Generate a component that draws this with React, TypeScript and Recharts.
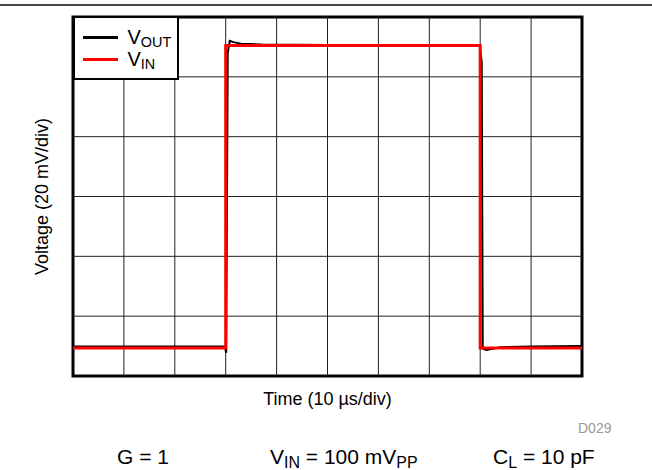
import React from "react";
import {
    LineChart,
    Line,
    XAxis,
    YAxis,
    ReferenceLine,
    ReferenceArea,
    Legend,
} from "recharts";

// time in µs, voltage in mV (scope trace, 10 µs/div, 20 mV/div)
const xTicks = [0, 10, 20, 30, 40, 50, 60, 70, 80, 90, 100];
const yTicks = [-60, -40, -20, 0, 20, 40, 60];

const vinTime = [0, 30, 30, 80, 80, 100];
const vinValues = [-50.6, -50.6, 50.5, 50.5, -50.6, -50.6];

const voutTime = [0, 29.8, 30.1, 30.4, 30.8, 31.5, 33, 37, 50, 79.9, 80.3, 80.5, 81.2, 84, 90, 100];
const voutValues = [-50.1, -50.1, -52.2, 48, 52, 51.6, 51.1, 50.8, 50.6, 50.5, 45, -50.8, -51.3, -50.4, -50.1, -50];

const seriesOrder = ["vout", "vin"];
const seriesLabels: Record<string, [string, string]> = {
    vout: ["V", "OUT"],
    vin: ["V", "IN"],
};

const vinData = vinTime.map((t, i) => ({ t, v: vinValues[i] }));
const voutData = voutTime.map((t, i) => ({ t, v: voutValues[i] }));

const FONT = "'Liberation Sans', Arial, Helvetica, sans-serif";

const Sub: React.FC<{ main: string; sub: string; size: number; ratio?: number }> = ({ main, sub, size, ratio = 0.72 }) => (
    <span>
        {main}
        <span style={{ fontSize: size * ratio, position: "relative", top: size * 0.18 }}>{sub}</span>
    </span>
);

const LegendBox = (props: any) => {
    const payload: any[] = props.payload || [];
    const items = seriesOrder
        .map((name) => payload.find((p) => p.value === name))
        .filter(Boolean);
    return (
        <div
            style={{
                boxSizing: "border-box",
                width: 106,
                height: 64,
                border: "2.5px solid #000",
                background: "#fff",
                paddingTop: 8.5,
                fontFamily: FONT,
            }}
        >
            {items.map((entry: any) => {
                const [main, sub] = seriesLabels[entry.value];
                return (
                    <div
                        key={entry.value}
                        style={{ display: "flex", alignItems: "center", height: 22, lineHeight: "20px" }}
                    >
                        <span
                            style={{
                                display: "inline-block",
                                width: 35,
                                height: 3,
                                background: entry.color,
                                marginLeft: 7.5,
                                marginRight: 10,
                            }}
                        />
                        <span style={{ fontSize: 20, color: "#000" }}>
                            <Sub main={main} sub={sub} size={20} />
                        </span>
                    </div>
                );
            })}
        </div>
    );
};

const YTitle = (props: any) => {
    const { viewBox } = props;
    const cx = viewBox.x + 42;
    const cy = viewBox.y + viewBox.height / 2;
    return (
        <text
            x={cx}
            y={cy}
            transform={`rotate(-90, ${cx}, ${cy})`}
            textAnchor="middle"
            dominantBaseline="central"
            fontSize={18}
            fontFamily={FONT}
            fill="#000"
        >
            Voltage (20 mV/div)
        </text>
    );
};

const noteStyle: React.CSSProperties = {
    position: "absolute",
    top: 446,
    fontSize: 21,
    lineHeight: 1,
    whiteSpace: "nowrap",
    color: "#000",
};

export default function App() {
    return (
        <div
            style={{
                position: "absolute",
                left: 0,
                top: 0,
                width: 652,
                height: 470,
                overflow: "hidden",
                background: "#fff",
                fontFamily: FONT,
            }}
        >
            <div style={{ position: "absolute", left: 0, top: 4, width: 652, height: 1.5, background: "#444" }} />
            <LineChart width={652} height={470} margin={{ top: 17, right: 70, bottom: 0, left: 0 }}>
                <XAxis
                    type="number"
                    dataKey="t"
                    domain={[0, 100]}
                    ticks={xTicks}
                    tick={false}
                    tickLine={false}
                    axisLine={false}
                    height={94}
                    allowDataOverflow
                    label={{
                        value: "Time (10 \u00b5s/div)",
                        position: "insideTop",
                        offset: 16,
                        fontSize: 18,
                        fontFamily: FONT,
                        fill: "#000",
                    }}
                />
                <YAxis
                    type="number"
                    domain={[-60, 60]}
                    ticks={yTicks}
                    tick={false}
                    tickLine={false}
                    axisLine={false}
                    width={73}
                    allowDataOverflow
                    label={<YTitle />}
                />
                {xTicks.slice(1, -1).map((x) => (
                    <ReferenceLine key={`gx${x}`} x={x} stroke="#222" strokeWidth={1} />
                ))}
                {yTicks.slice(1, -1).map((y) => (
                    <ReferenceLine key={`gy${y}`} y={y} stroke="#222" strokeWidth={1} />
                ))}
                <Line
                    name="vout"
                    data={voutData}
                    dataKey="v"
                    type="linear"
                    stroke="#000"
                    strokeWidth={2}
                    dot={false}
                    activeDot={false}
                    isAnimationActive={false}
                />
                <Line
                    name="vin"
                    data={vinData}
                    dataKey="v"
                    type="linear"
                    stroke="#ff0000"
                    strokeWidth={3}
                    strokeLinejoin="miter"
                    dot={false}
                    activeDot={false}
                    isAnimationActive={false}
                />
                <ReferenceArea
                    x1={0}
                    x2={100}
                    y1={-60}
                    y2={60}
                    fill="none"
                    fillOpacity={0}
                    stroke="#000"
                    strokeWidth={3}
                    ifOverflow="visible"
                />
                <Legend
                    layout="horizontal"
                    verticalAlign="middle"
                    align="center"
                    content={<LegendBox />}
                    wrapperStyle={{ left: 73, top: 16, width: "auto", height: "auto" }}
                />
            </LineChart>
            <div style={{ position: "absolute", left: 578, top: 421, fontSize: 14, lineHeight: 1, color: "#999" }}>
                D029
            </div>
            <div style={{ ...noteStyle, left: 117 }}>G = 1</div>
            <div style={{ ...noteStyle, left: 270 }}>
                <Sub main="V" sub="IN" size={21} ratio={0.76} /> = 100 m<Sub main="V" sub="PP" size={21} ratio={0.76} />
            </div>
            <div style={{ ...noteStyle, left: 493 }}>
                <Sub main="C" sub="L" size={21} ratio={0.76} /> = 10 pF
            </div>
        </div>
    );
}
